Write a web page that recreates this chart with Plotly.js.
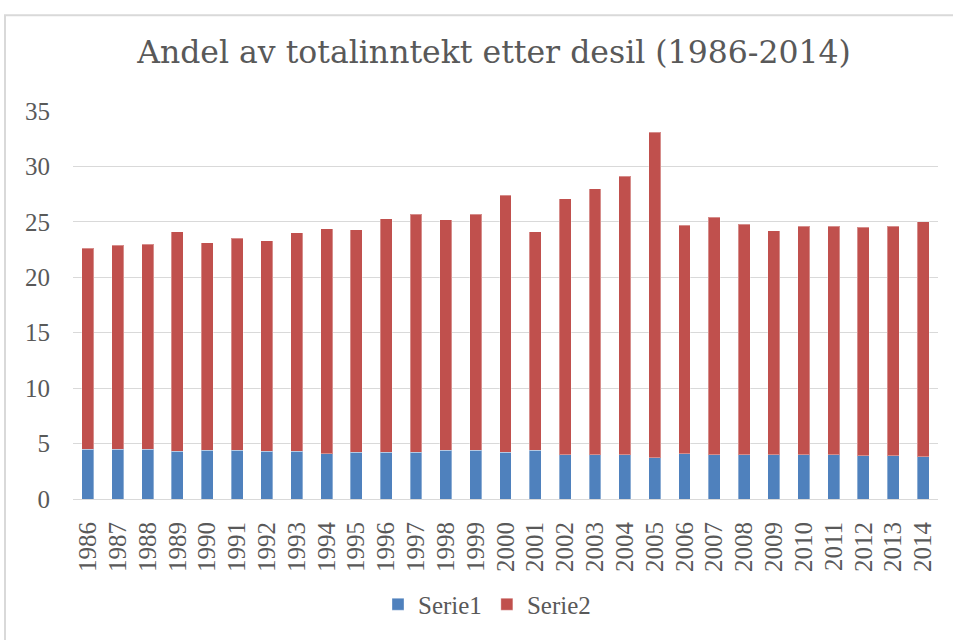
<!DOCTYPE html>
<html>
<head>
<meta charset="utf-8">
<script src="https://cdn.plot.ly/plotly-3.0.1.min.js"></script>
<style>
html,body{margin:0;padding:0;background:#fff;}
#chart{width:953px;height:640px;}
</style>
</head>
<body>
<div id="chart"></div>
<script>
var years = ["1986","1987","1988","1989","1990","1991","1992","1993","1994","1995","1996","1997","1998","1999","2000","2001","2002","2003","2004","2005","2006","2007","2008","2009","2010","2011","2012","2013","2014"];
var serie1 = [4.5,4.5,4.5,4.3,4.4,4.4,4.3,4.3,4.1,4.2,4.2,4.2,4.4,4.4,4.2,4.4,4.0,4.0,4.0,3.7,4.1,4.0,4.0,4.0,4.0,4.0,3.9,3.9,3.8];
var serie2 = [18.1,18.4,18.5,19.8,18.7,19.1,19.0,19.7,20.3,20.1,21.1,21.5,20.8,21.3,23.2,19.7,23.1,24.0,25.1,29.4,20.6,21.4,20.8,20.2,20.6,20.6,20.6,20.7,21.2];
var yTicks = [0,5,10,15,20,25,30,35];

var FONT = "Liberation Serif, Times New Roman, serif";
var TFONT = "DejaVu Serif, serif";
var GREY = "#595959";
var L = 73, R = 15, T = 110.7, B = 137.5;
var W = 953, H = 640;
var pw = W - L - R, ph = H - T - B;
function px(x){ return (x - L) / pw; }
function py(y){ return (H - B - y) / ph; }

var traces = [
  {type:"bar", name:"Serie1", x:years, y:serie1,
   marker:{color:"#4F81BD", line:{color:"rgba(255,255,255,0.35)", width:1}}},
  {type:"bar", name:"Serie2", x:years, y:serie2,
   marker:{color:"#C0504D", line:{color:"rgba(255,255,255,0.35)", width:1}}}
];

var layout = {
  width:W, height:H,
  margin:{l:L, r:R, t:T, b:B, pad:0},
  paper_bgcolor:"#fff", plot_bgcolor:"#fff",
  barmode:"stack", bargap:0.6,
  font:{family:FONT, color:GREY, size:24},
  title:{text:"Andel av totalinntekt etter desil (1986-2014)",
         font:{family:TFONT, size:31.5, color:GREY},
         x:px(494), xanchor:"center", xref:"paper",
         y:1 - 52/H, yref:"container", yanchor:"middle"},
  xaxis:{type:"category", tickmode:"array", tickvals:years, ticktext:years,
         tickangle:-90, tickfont:{family:FONT, size:25, color:GREY},
         showgrid:false, zeroline:false, showline:true, linecolor:"#D9D9D9", linewidth:1,
         ticks:"", ticklabelstandoff:12, fixedrange:true},
  yaxis:{range:[0,35], tickvals:yTicks, ticktext:yTicks.map(String),
         tickfont:{family:FONT, size:25, color:GREY},
         showgrid:true, gridcolor:"#D9D9D9", gridwidth:1, zeroline:false,
         showline:false, ticks:"", ticklabelstandoff:22, fixedrange:true},
  showlegend:true,
  legend:{orientation:"h", x:px(487), xanchor:"center", y:py(609), yanchor:"middle",
          font:{family:FONT, size:25, color:GREY}, traceorder:"normal",
          itemwidth:30, bgcolor:"rgba(0,0,0,0)"},
  shapes:[
    {type:"rect", xref:"paper", yref:"paper",
     x0:px(5), x1:px(960), y0:py(14), y1:py(650),
     line:{color:"#D9D9D9", width:2}, fillcolor:"rgba(0,0,0,0)", layer:"below"}
  ]
};

Plotly.newPlot("chart", traces, layout, {displayModeBar:false, staticPlot:true});
</script>
</body>
</html>
